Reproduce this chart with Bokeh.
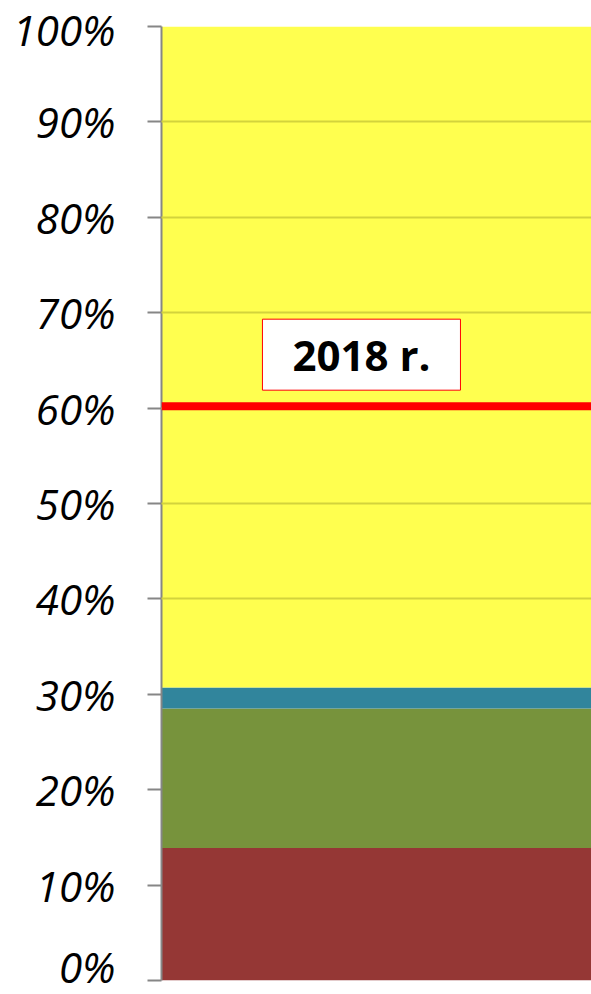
from bokeh.plotting import figure
from bokeh.models import Range1d, FixedTicker, PrintfTickFormatter, Span, Label, ColumnDataSource
from bokeh.embed import file_html
from bokeh.resources import INLINE

# ---- data ----
series_values = [13.9, 14.6, 2.2, 69.3]          # stacked shares, %
series_colors = ["#953735", "#77933C", "#31859C", "#FFFF4F"]
y_ticks = [0, 10, 20, 30, 40, 50, 60, 70, 80, 90, 100]
marker_value = 60.2                                # red line, %
marker_label = "2018 r."

# ---- build stacked segments ----
bottoms, tops = [], []
acc = 0.0
for v in series_values:
    bottoms.append(acc)
    acc += v
    tops.append(acc)

src = ColumnDataSource(dict(
    x=[0.5] * len(series_values),
    bottom=bottoms,
    top=tops,
    color=series_colors,
))

p = figure(width=591, height=994, output_backend="svg", toolbar_location=None,
           x_range=Range1d(0, 1), y_range=Range1d(0, 100),
           x_axis_location=None,
           min_border_left=161, min_border_right=0,
           min_border_top=26, min_border_bottom=14)
p.outline_line_color = None
p.background_fill_color = "white"
p.border_fill_color = "white"

p.vbar(x="x", width=1.0, bottom="bottom", top="top", fill_color="color",
       line_color=None, source=src)

# grid lines visible only over the top (yellow) segment
p.xgrid.visible = False
p.ygrid.ticker = FixedTicker(ticks=[t for t in y_ticks if t > tops[-2]])
p.ygrid.level = "guide"
p.ygrid.grid_line_color = "#D3D33C"
p.ygrid.grid_line_width = 2

ax = p.yaxis[0]
ax.ticker = FixedTicker(ticks=y_ticks)
ax.formatter = PrintfTickFormatter(format="%d%%")
ax.axis_line_color = "#868686"
ax.axis_line_width = 2
ax.major_tick_line_color = "#868686"
ax.major_tick_line_width = 2
ax.major_tick_out = 14
ax.major_tick_in = 0
ax.minor_tick_line_color = None
ax.major_label_text_font = "Open Sans"
ax.major_label_text_font_style = "italic"
ax.major_label_text_font_size = "42px"
ax.major_label_text_color = "black"
ax.major_label_standoff = 32

p.add_layout(Span(location=marker_value, dimension="width",
                  line_color="#FF0000", line_width=8))

p.add_layout(Label(x=0.465, y=65.6, text=marker_label,
                   text_font="Open Sans", text_font_style="bold",
                   text_font_size="42px", text_color="black",
                   text_align="center", text_baseline="middle",
                   background_fill_color="white",
                   border_line_color="#FF0000", border_line_width=1,
                   padding=(30, 7)))

open("out.html", "w").write(file_html(p, INLINE))
